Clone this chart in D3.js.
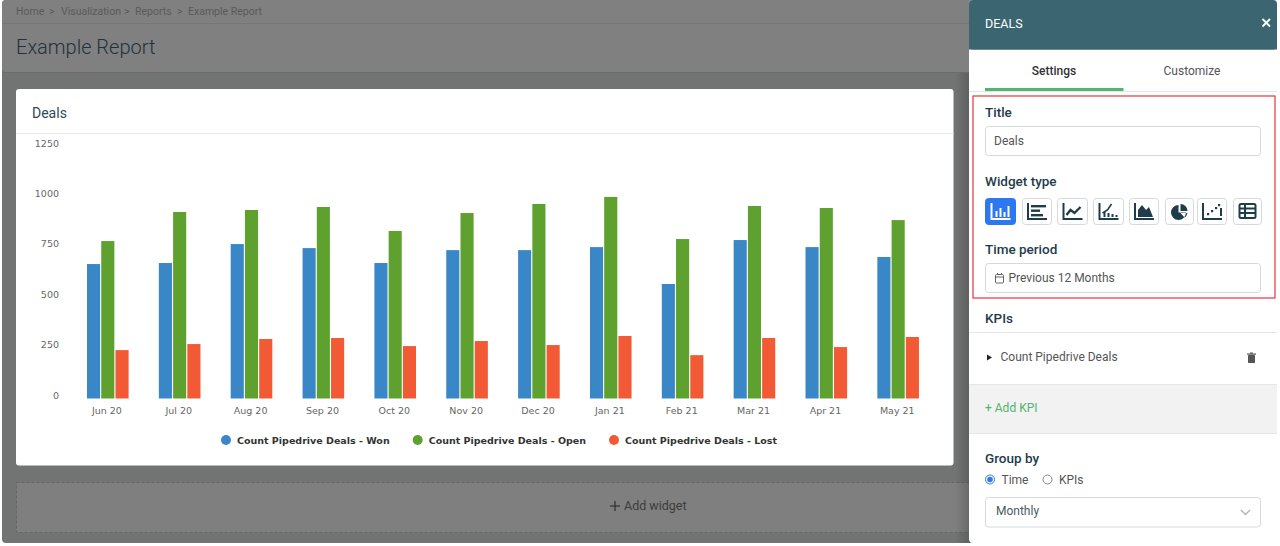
<!DOCTYPE html>
<html><head><meta charset="utf-8">
<script src="https://cdn.jsdelivr.net/npm/d3@7"></script>
<style>
html,body{margin:0;padding:0;background:#fff;overflow:hidden}
svg{display:block}
text{font-family:Roboto,sans-serif}
.axis text{font-family:"DejaVu Sans",sans-serif;font-size:9.5px;fill:#666}
.legend text{font-family:"DejaVu Sans",sans-serif;font-size:9.5px;font-weight:bold;fill:#333}
</style></head><body>
<svg id="c" width="1280" height="546" xmlns="http://www.w3.org/2000/svg"></svg>
<script>
const months=["Jun 20","Jul 20","Aug 20","Sep 20","Oct 20","Nov 20","Dec 20","Jan 21","Feb 21","Mar 21","Apr 21","May 21"];
const won=[667,672,766,746,672,736,736,751,568,786,751,702];
const open=[781,925,935,950,831,920,965,1000,791,955,945,885];
const lost=[240,270,295,300,260,285,265,310,215,300,255,305];
const seriesNames=["Count Pipedrive Deals - Won","Count Pipedrive Deals - Open","Count Pipedrive Deals - Lost"];
const seriesColors=["#3a87c7","#5fa12e","#f15a35"];
const yTicks=[0,250,500,750,1000,1250];

const svg=d3.select("#c");
const defs=svg.append("defs");
const g=defs.append("linearGradient").attr("id","shade");
g.append("stop").attr("offset","0").attr("stop-color","#000").attr("stop-opacity",0);
g.append("stop").attr("offset","1").attr("stop-color","#000").attr("stop-opacity",.18);

function rect(p,x,y,w,h,fill,o={}){const r=p.append("rect").attr("x",x).attr("y",y).attr("width",w).attr("height",h).attr("fill",fill);
  for(const k in o)r.attr(k,o[k]);return r;}
function txt(p,x,y,s,size,fill,o={}){const t=p.append("text").attr("x",x).attr("y",y).attr("font-size",size).attr("fill",fill).text(s);
  for(const k in o)t.attr(k,o[k]);return t;}
function line(p,x1,y1,x2,y2,c,w=1,o={}){const l=p.append("line").attr("x1",x1).attr("y1",y1).attr("x2",x2).attr("y2",y2).attr("stroke",c).attr("stroke-width",w);
  for(const k in o)l.attr(k,o[k]);return l;}

/* dimmed page behind the panel */
const page=svg.append("g");
rect(page,2,0,974,543,"#727473",{rx:4});
rect(page,2,0,974,72,"#808080",{rx:4});
line(page,2,23.5,970,23.5,"#757675");
line(page,2,72.5,970,72.5,"#6a6c6b");
const crumb=[["Home",16],[">",49],["Visualization",61],[">",124],["Reports",135],[">",177],["Example Report",188]];
crumb.forEach(c=>txt(page,c[1],14.5,c[0],10.5,"#5a5a5a"));
txt(page,16,54,"Example Report",20,"#22323a",{"font-weight":300});
rect(page,16.5,482.5,953,50,"#7f7f7f",{stroke:"#666","stroke-dasharray":"3 2"});
txt(page,624,510,"Add widget",12.5,"#3d3d3d");
line(page,610,506,620,506,"#333",1.3);line(page,615,501,615,511,"#333",1.3);
rect(page,955,73,15,470,"url(#shade)");

/* card */
rect(page,16,89,937.5,376.5,"#fff",{rx:3});
line(page,16,133.5,953.5,133.5,"#e6e8e8");
txt(page,32,118,"Deals",14,"#2f4a57",{"font-weight":400});

/* chart */
const x=d3.scaleBand().domain(months).range([71,933.2]);
const inner=d3.scaleBand().domain(d3.range(3)).range([16,57.6]).paddingInner(.08);
const y=d3.scaleLinear().domain([0,1250]).range([398.5,146.5]);
const chart=svg.append("g");
[won,open,lost].forEach((vals,i)=>{
  chart.append("g").selectAll("rect").data(vals).join("rect")
   .attr("x",(d,j)=>x(months[j])+inner(i))
   .attr("width",inner.bandwidth())
   .attr("y",d=>y(d)).attr("height",d=>y(0)-y(d))
   .attr("fill",seriesColors[i]);
});
const ax=chart.append("g").attr("class","axis").attr("transform","translate(0,398.5)")
  .call(d3.axisBottom(x).tickSize(0).tickPadding(9));
ax.select(".domain").remove();
const ay=chart.append("g").attr("class","axis").attr("transform","translate(59,0)")
  .call(d3.axisLeft(y).tickValues(yTicks).tickFormat(d3.format("d")).tickSize(0).tickPadding(0));
ay.select(".domain").remove();
ay.selectAll("text").attr("dy","-0.05em");

/* legend */
const lg=svg.append("g").attr("class","legend");
let lx=221;
const items=seriesNames.map((n,i)=>{
  const it=lg.append("g").attr("transform",`translate(${lx},440)`);
  it.append("circle").attr("cx",5).attr("cy",0).attr("r",5).attr("fill",seriesColors[i]);
  const t=it.append("text").attr("x",16).attr("y",3.5).text(n);
  lx+=16+t.node().getComputedTextLength()+23;
  return it;
});

/* side panel */
const side=svg.append("g");
rect(side,969,0,308,543,"#fff",{rx:4});
rect(side,969,0,308,49.5,"#3b6570",{rx:4});
rect(side,969,10,308,39.5,"#3b6570");
txt(side,985,28,"DEALS",12.5,"#fff",{"font-weight":400});
line(side,1262.5,19,1270,26.5,"#fff",1.8);line(side,1270,19,1262.5,26.5,"#fff",1.8);
txt(side,1054,75,"Settings",12,"#333",{"text-anchor":"middle","font-weight":500});
txt(side,1192,75,"Customize",12,"#555",{"text-anchor":"middle"});
line(side,969,91.5,1277,91.5,"#e3e7e8");
rect(side,985,88,138.5,3,"#4fb56f");
rect(side,973,96,302,202,"none",{stroke:"#e8333c","stroke-width":1.2});
const head="#1f3c4a";
txt(side,985,117,"Title",13.5,head,{"font-weight":500});
rect(side,985.5,126.5,275,29,"#fff",{rx:3,stroke:"#d5d9db"});
txt(side,994,145,"Deals",12,"#555");
txt(side,985,186,"Widget type",13.5,head,{"font-weight":500});
txt(side,985,254,"Time period",13.5,head,{"font-weight":500});
rect(side,985.5,263.5,275,29,"#fff",{rx:3,stroke:"#d5d9db"});
txt(side,1008.5,282,"Previous 12 Months",12,"#555");
const cal=side.append("g").attr("transform","translate(995,273)").attr("fill","none").attr("stroke","#666");
cal.append("rect").attr("x",.5).attr("y",1.5).attr("width",8).attr("height",8.5).attr("rx",1);
line(cal,.5,4,8.5,4,"#666");line(cal,2.5,0,2.5,2,"#666");line(cal,6.5,0,6.5,2,"#666");

/* widget type buttons */
const btn=[[985,31],[1022,30],[1057,31],[1093,31],[1129,30],[1165,29],[1197,30],[1233,29]];
const ic="#1f3c4a";
btn.forEach((b,i)=>{
  const on=i===0, c=on?"#fff":ic;
  rect(side,b[0]+.5,198.5,b[1]-1,26,on?"#2d78f0":"#fff",{rx:3,stroke:on?"#2d78f0":"#d5d9db"});
  const a=side.append("g").attr("transform",`translate(${b[0]+(b[1]-20)/2},202)`);
  const base=()=>{a.append("path").attr("d","M1 1V17H20").attr("fill","none").attr("stroke",c).attr("stroke-width",2);};
  const bars=(arr)=>arr.forEach(v=>rect(a,v[0],v[1],v[2],v[3],c));
  if(i===0){base();bars([[5,9,2,6],[9,6,2,9],[13,10,2,5],[17,4,2,11]]);}
  if(i===1){base();bars([[4,3,15,2.4],[4,7.5,9,2.4],[4,12,12,2.4]]);}
  if(i===2){base();a.append("path").attr("d","M4 13L8 8L12 11L18 5").attr("fill","none").attr("stroke",c).attr("stroke-width",2.4);}
  if(i===3){base();bars([[5,10,2,5],[9,11,2,4],[13,12,2,3],[17,13,2,2]]);a.append("path").attr("d","M4 11L9 8L13 2").attr("fill","none").attr("stroke",c).attr("stroke-width",1.6);}
  if(i===4){base();a.append("path").attr("d","M4 15V8L8 3L12 8L15 5L19 15Z").attr("fill",c);}
  if(i===5){a.append("path").attr("d","M9 3A7.5 7.5 0 1 0 16.5 10.5H9Z M11 2A7 7 0 0 1 18 9L11 9Z M11 11L18 11A7 7 0 0 1 15 15.5Z").attr("fill",c);}
  if(i===6){base();bars([[5,11,2.2,2.2],[9,8,2.2,2.2],[13,5,2.2,2.2],[16,2,2.2,2.2],[18,6,2,8]]);}
  if(i===7){a.append("rect").attr("x",2).attr("y",2).attr("width",16).attr("height",14).attr("rx",1.5).attr("fill","none").attr("stroke",c).attr("stroke-width",2);
    line(a,2,6.5,18,6.5,c,2);line(a,2,11,18,11,c,2);line(a,7.5,2,7.5,16,c,2);}
});

/* KPIs */
txt(side,985,323,"KPIs",13.5,head,{"font-weight":500});
line(side,969,332.5,1277,332.5,"#e3e7e8");
side.append("path").attr("d","M987 354.5L992 357.5L987 360.5Z").attr("fill","#222");
txt(side,1000.5,361,"Count Pipedrive Deals",12,"#555");
const bin=side.append("g").attr("transform","translate(1247,353)");
rect(bin,1,2,7,8,"#555",{rx:.8});rect(bin,0,.5,9,1.2,"#555");rect(bin,3,-.5,3,1.2,"#555");
rect(side,969,384,308,49.5,"#f2f2f2");
line(side,969,384.5,1277,384.5,"#e3e7e8");line(side,969,433.5,1277,433.5,"#e3e7e8");
txt(side,985,412,"+ Add KPI",12,"#4fb56f");
txt(side,985,463,"Group by",13.5,head,{"font-weight":500});
side.append("circle").attr("cx",990).attr("cy",479.5).attr("r",4.5).attr("fill","#fff").attr("stroke","#2d78f0");
side.append("circle").attr("cx",990).attr("cy",479.5).attr("r",2.8).attr("fill","#2d78f0");
txt(side,1001.5,484,"Time",12,"#555");
side.append("circle").attr("cx",1047.5).attr("cy",479.5).attr("r",4.5).attr("fill","#fff").attr("stroke","#888");
txt(side,1059,484,"KPIs",12,"#555");
rect(side,985.5,497.5,275,29.5,"#fff",{rx:3,stroke:"#d5d9db"});
txt(side,996,515,"Monthly",12,"#4a5a62");
side.append("path").attr("d","M1241 510L1245.5 514.5L1250 510").attr("fill","none").attr("stroke","#aab0b3").attr("stroke-width",1.3);
</script>
</body></html>
